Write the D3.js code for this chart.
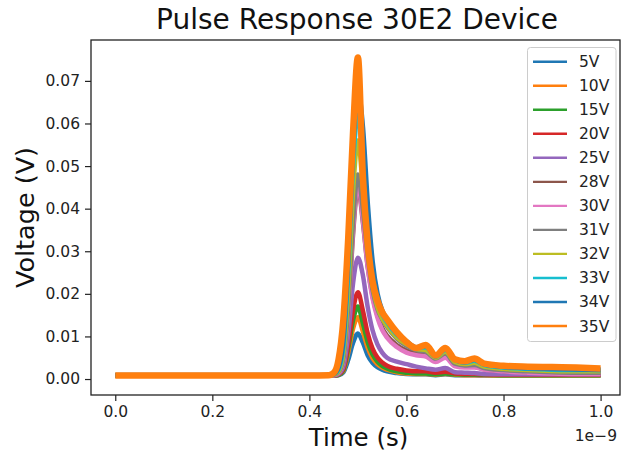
<!DOCTYPE html>
<html>
<head>
<meta charset="utf-8">
<script src="https://cdn.jsdelivr.net/npm/d3@7"></script>
<style>
  body { margin: 0; background: #fff; }
  svg { font-family: "DejaVu Sans", sans-serif; }
</style>
</head>
<body>
<div id="chart"></div>
<script>
// -------- Data --------
const seriesNames = ["5V", "10V", "15V", "20V", "25V", "28V", "30V", "31V", "32V", "33V", "34V", "35V"];
const seriesColors = ["#1f77b4", "#ff7f0e", "#2ca02c", "#d62728", "#9467bd", "#8c564b",
                      "#e377c2", "#7f7f7f", "#bcbd22", "#17becf", "#1f77b4", "#ff7f0e"];

// time axis, units of 1e-9 s
const times = [0.00, 0.10, 0.20, 0.30, 0.40, 0.44, 0.45, 0.46, 0.47, 0.48, 0.49, 0.50, 0.51,
               0.52, 0.53, 0.54, 0.55, 0.56, 0.58, 0.60, 0.62, 0.64, 0.66, 0.68, 0.70, 0.72,
               0.74, 0.76, 0.80, 0.85, 0.90, 0.95, 1.00];

const v5  = [.0008,.0008,.0008,.0008,.0008,.0008,.0008,.0009,.0016,.0045,.0085,.0107,.0086,
             .0056,.0038,.0028,.0022,.0018,.0014,.0012,.0011,.0011,.0009,.0011,.0009,.0009,
             .0009,.0008,.0008,.0008,.0008,.0008,.0008];
const v10 = [.0008,.0008,.0008,.0008,.0008,.0008,.0008,.0010,.0019,.0062,.0118,.0145,.0112,
             .0074,.0049,.0035,.0027,.0022,.0016,.0013,.0012,.0012,.0010,.0012,.0010,.0009,
             .0009,.0009,.0008,.0008,.0008,.0008,.0008];
const v15 = [.0008,.0008,.0008,.0008,.0008,.0008,.0008,.0010,.0021,.0072,.0138,.0170,.0132,
             .0087,.0058,.0041,.0031,.0025,.0018,.0015,.0013,.0013,.0011,.0013,.0011,.0010,
             .0010,.0010,.0009,.0009,.0009,.0009,.0009];
const v20 = [.0008,.0008,.0008,.0008,.0008,.0008,.0008,.0011,.0024,.0082,.0162,.0204,.0162,
             .0108,.0072,.0051,.0039,.0031,.0024,.0020,.0018,.0018,.0015,.0017,.0013,.0012,
             .0012,.0011,.0010,.0010,.0010,.0010,.0010];
const v25 = [.0008,.0008,.0008,.0008,.0008,.0008,.0008,.0012,.0030,.0105,.0225,.0285,.0245,
             .0170,.0115,.0082,.0062,.0050,.0041,.0035,.0029,.0025,.0022,.0026,.0016,.0015,
             .0014,.0012,.0011,.0011,.0011,.0011,.0011];
const v28 = [.0008,.0008,.0008,.0008,.0008,.0008,.0009,.0014,.0040,.0150,.0340,.0450,.0370,
             .0265,.0195,.0150,.0120,.0102,.0080,.0067,.0060,.0057,.0042,.0054,.0032,.0029,
             .0029,.0023,.0019,.0016,.0014,.0013,.0013];
const v30 = [.0008,.0008,.0008,.0008,.0008,.0008,.0009,.0014,.0042,.0155,.0350,.0460,.0375,
             .0265,.0190,.0145,.0115,.0097,.0075,.0062,.0056,.0053,.0040,.0050,.0030,.0027,
             .0027,.0022,.0018,.0015,.0013,.0012,.0012];
const v31 = [.0008,.0008,.0008,.0008,.0008,.0008,.0010,.0016,.0048,.0170,.0370,.0480,.0400,
             .0290,.0210,.0165,.0140,.0122,.0095,.0078,.0068,.0064,.0048,.0060,.0036,.0032,
             .0033,.0026,.0021,.0018,.0016,.0015,.0015];
const v32 = [.0008,.0008,.0008,.0008,.0008,.0008,.0010,.0018,.0060,.0210,.0440,.0560,.0450,
             .0310,.0220,.0170,.0142,.0125,.0098,.0082,.0071,.0068,.0050,.0064,.0040,.0035,
             .0038,.0029,.0024,.0021,.0019,.0018,.0018];
const v33 = [.0008,.0008,.0008,.0008,.0008,.0008,.0011,.0022,.0075,.0250,.0500,.0620,.0530,
             .0360,.0250,.0185,.0152,.0133,.0104,.0086,.0074,.0074,.0052,.0068,.0044,.0038,
             .0043,.0033,.0027,.0024,.0022,.0021,.0021];
const v34 = [.0009,.0009,.0009,.0009,.0009,.0009,.0012,.0028,.0095,.0290,.0550,.0675,.0590,
             .0410,.0275,.0200,.0160,.0140,.0108,.0088,.0074,.0078,.0054,.0071,.0046,.0040,
             .0046,.0035,.0029,.0026,.0024,.0023,.0022];
const v35 = [.0008,.0008,.0008,.0008,.0008,.0009,.0014,.0045,.0140,.0330,.0580,.0755,.0480,
             .0320,.0230,.0185,.0157,.0140,.0110,.0087,.0073,.0080,.0055,.0073,.0046,.0042,
             .0048,.0036,.0031,.0029,.0028,.0027,.0025];

const seriesValues = [v5, v10, v15, v20, v25, v28, v30, v31, v32, v33, v34, v35];

const xTicks = [0.0, 0.2, 0.4, 0.6, 0.8, 1.0];
const yTicks = [0.00, 0.01, 0.02, 0.03, 0.04, 0.05, 0.06, 0.07];

// -------- Layout --------
const width = 624, height = 455;
const plot = { left: 91, right: 620, top: 40, bottom: 395 };

const svg = d3.select("#chart").append("svg")
  .attr("width", width)
  .attr("height", height);

const x = d3.scaleLinear().domain([-0.05, 1.04]).range([plot.left, plot.right]);
const y = d3.scaleLinear().domain([-0.00375, 0.0796]).range([plot.bottom, plot.top]);

// Clip lines to plot area
svg.append("clipPath").attr("id", "clip")
  .append("rect")
  .attr("x", plot.left).attr("y", plot.top)
  .attr("width", plot.right - plot.left).attr("height", plot.bottom - plot.top);

// -------- Lines --------
const line = d3.line()
  .x(d => x(d[0]))
  .y(d => y(d[1]))
  .curve(d3.curveMonotoneX);

const lineData = seriesNames.map((name, i) => ({
  name,
  color: seriesColors[i],
  width: i === 11 ? 6.5 : (i === 10 ? 5 : 4.5),
  points: times.map((t, j) => [t, seriesValues[i][j]])
}));

svg.append("g")
  .attr("clip-path", "url(#clip)")
  .selectAll("path")
  .data(lineData)
  .join("path")
  .attr("d", d => line(d.points))
  .attr("fill", "none")
  .attr("stroke", d => d.color)
  .attr("stroke-width", d => d.width)
  .attr("stroke-linejoin", "round")
  .attr("stroke-linecap", "butt");

// -------- Axes --------
const xAxis = svg.append("g")
  .attr("transform", `translate(0,${plot.bottom})`)
  .call(d3.axisBottom(x).tickValues(xTicks).tickFormat(d3.format(".1f")).tickSize(6).tickPadding(5));

const yAxis = svg.append("g")
  .attr("transform", `translate(${plot.left},0)`)
  .call(d3.axisLeft(y).tickValues(yTicks).tickFormat(d3.format(".2f")).tickSize(6).tickPadding(5));

[xAxis, yAxis].forEach(g => {
  g.select(".domain").remove();
  g.selectAll(".tick line").attr("stroke", "#222").attr("stroke-width", 1.2);
  g.selectAll(".tick text")
    .attr("fill", "#222")
    .style("font-family", "DejaVu Sans")
    .style("font-size", "15.5px");
});

// frame
svg.append("rect")
  .attr("x", plot.left).attr("y", plot.top)
  .attr("width", plot.right - plot.left).attr("height", plot.bottom - plot.top)
  .attr("fill", "none")
  .attr("stroke", "#222")
  .attr("stroke-width", 1.3);

// -------- Titles --------
svg.append("text")
  .attr("x", 357).attr("y", 29)
  .attr("text-anchor", "middle")
  .style("font-size", "28px")
  .attr("fill", "#111")
  .text("Pulse Response 30E2 Device");

svg.append("text")
  .attr("x", (plot.left + 626) / 2).attr("y", 446)
  .attr("text-anchor", "middle")
  .style("font-size", "24.5px")
  .attr("fill", "#111")
  .text("Time (s)");

svg.append("text")
  .attr("transform", `translate(34,${(plot.top + plot.bottom) / 2}) rotate(-90)`)
  .attr("text-anchor", "middle")
  .style("font-size", "25.5px")
  .attr("fill", "#111")
  .text("Voltage (V)");

svg.append("text")
  .attr("x", 617).attr("y", 441)
  .attr("text-anchor", "end")
  .style("font-size", "15.5px")
  .attr("fill", "#222")
  .text("1e\u22129");

// -------- Legend --------
const legend = svg.append("g");
legend.append("rect")
  .attr("x", 527.5).attr("y", 47.5)
  .attr("width", 88.5).attr("height", 294)
  .attr("rx", 3)
  .attr("fill", "#fff").attr("fill-opacity", 0.85)
  .attr("stroke", "#cccccc").attr("stroke-width", 1);

const rowY = d3.scalePoint().domain(seriesNames).range([61.7, 326]);

const rows = legend.selectAll("g.row")
  .data(lineData)
  .join("g")
  .attr("class", "row")
  .attr("transform", d => `translate(0,${rowY(d.name)})`);

rows.append("line")
  .attr("x1", 533).attr("x2", 567)
  .attr("stroke", d => d.color)
  .attr("stroke-width", 2.4);

rows.append("text")
  .attr("x", 579).attr("y", 5.5)
  .style("font-size", "15.5px")
  .attr("fill", "#222")
  .text(d => d.name);
</script>
</body>
</html>
